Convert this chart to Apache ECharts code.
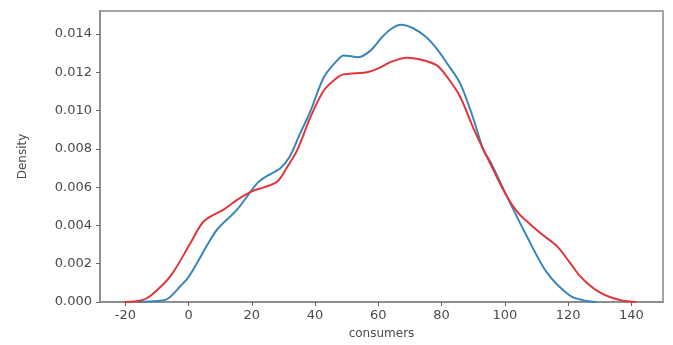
<!DOCTYPE html>
<html lang="en">
<head>
<meta charset="utf-8" />
<style>
    body { margin: 0; background: #fff; overflow: hidden; }
    .box { width: 673px; height: 345px; }
</style>
</head>
<body>
<div class="box"></div>
<script src="https://cdn.jsdelivr.net/npm/echarts@6/dist/echarts.min.js"></script>
<script>
// KDE curves: [consumers, density]
var blueCurve = [
    [-16, 0], [-10, 0.00005], [-6.6, 0.00017], [-2.4, 0.00086], [0, 0.0013],
    [2.8, 0.00207], [6, 0.003], [9.1, 0.0038], [15.4, 0.00484], [21.8, 0.00622],
    [25, 0.0066], [29.1, 0.007], [32, 0.0076], [35, 0.0087], [38.6, 0.01],
    [42.8, 0.01175], [47, 0.01262], [49, 0.01288], [53.7, 0.01279], [57.5, 0.01313],
    [61, 0.0138], [64, 0.01426], [67.2, 0.01448], [71, 0.0143], [75, 0.01385],
    [78.5, 0.01322], [82, 0.0124], [85.9, 0.01141], [90, 0.0096], [93.2, 0.00795],
    [95.5, 0.0073], [100.6, 0.00553], [106.9, 0.00345], [113.2, 0.00156],
    [120.5, 0.00034], [125, 0.00008], [129, 0]
];
var redCurve = [
    [-20.3, 0], [-15, 0.00008], [-11.9, 0.00034], [-5.6, 0.00138], [0.7, 0.00311],
    [4.9, 0.00423], [11.2, 0.00484], [15, 0.0053], [20.2, 0.00579], [24, 0.006],
    [28.1, 0.0063], [31, 0.007], [34.4, 0.00795], [38.6, 0.00968], [42.8, 0.01106],
    [47, 0.01172], [49, 0.01189], [53, 0.01195], [56.4, 0.012], [60, 0.0122],
    [63.8, 0.01253], [69, 0.01276], [73, 0.01268], [78.5, 0.01236], [82, 0.0117],
    [85.9, 0.01071], [90, 0.0091], [94.3, 0.0076], [100.6, 0.00553], [104, 0.0047],
    [108, 0.00406], [112, 0.0035], [116.4, 0.00293], [120.5, 0.00207], [123.5, 0.0014],
    [126.9, 0.00086], [130, 0.0005], [133.2, 0.00026], [137, 0.00008], [141.6, 0]
];
var xTicks = [-20, 0, 20, 40, 60, 80, 100, 120, 140];
var yTicks = [0, 0.002, 0.004, 0.006, 0.008, 0.010, 0.012, 0.014];

var myChart = echarts.init(document.querySelector('.box'));

var labelStyle = { color: '#4a4a4a', fontSize: 13, fontFamily: 'DejaVu Sans' };

var option = {
    animation: false,
    grid: {
        left: 100, right: 10, top: 11, bottom: 42,
        show: true, borderColor: '#888', borderWidth: 1.5
    },
    xAxis: {
        type: 'value',
        min: -28, max: 150,
        name: 'consumers',
        nameLocation: 'middle',
        nameGap: 26,
        nameTextStyle: { color: '#4a4a4a', fontSize: 12, fontFamily: 'DejaVu Sans' },
        axisLine: { show: true, onZero: false, lineStyle: { color: '#888', width: 1.5 } },
        axisTick: { show: true, length: 4, customValues: xTicks, lineStyle: { color: '#666' } },
        axisLabel: Object.assign({ customValues: xTicks, margin: 7 }, labelStyle),
        splitLine: { show: false }
    },
    yAxis: {
        type: 'value',
        min: 0, max: 0.0152,
        name: 'Density',
        nameLocation: 'middle',
        nameGap: 71,
        nameTextStyle: { color: '#4a4a4a', fontSize: 12, fontFamily: 'Liberation Sans Narrow, DejaVu Sans' },
        axisLine: { show: true, onZero: false, lineStyle: { color: '#888', width: 1.5 } },
        axisTick: { show: true, length: 4, customValues: yTicks, lineStyle: { color: '#666' } },
        axisLabel: Object.assign({
            customValues: yTicks,
            margin: 8,
            formatter: function (v) { return v.toFixed(3); }
        }, labelStyle),
        splitLine: { show: false }
    },
    series: [{
        type: 'line',
        data: blueCurve,
        smooth: 0.3,
        showSymbol: false,
        lineStyle: { color: '#3a86b8', width: 2 }
    }, {
        type: 'line',
        data: redCurve,
        smooth: 0.3,
        showSymbol: false,
        lineStyle: { color: '#e0353b', width: 2 }
    }]
};

myChart.setOption(option);
</script>
</body>
</html>
